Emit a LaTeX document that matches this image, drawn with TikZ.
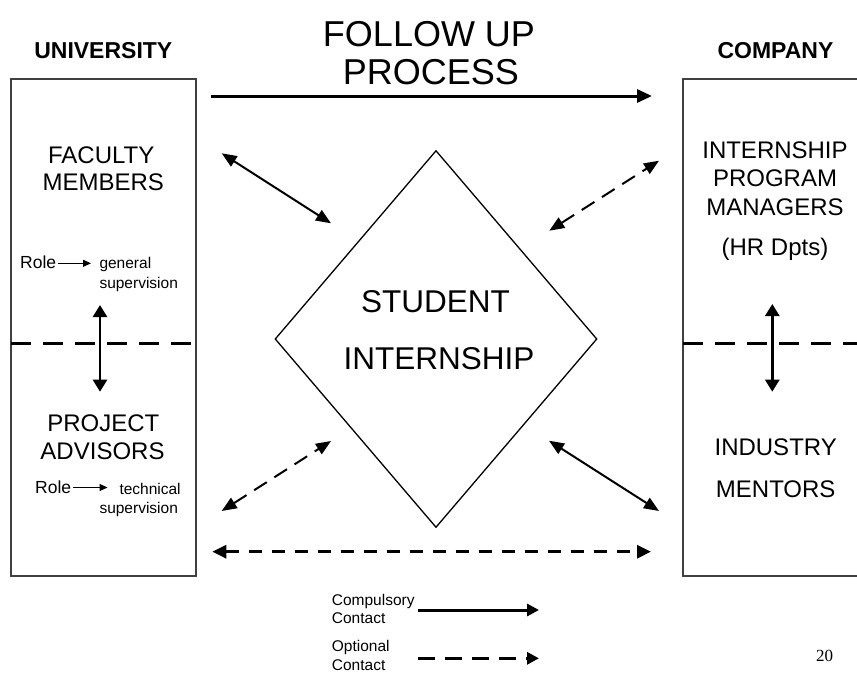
\documentclass[tikz,border=0pt]{standalone}
\usepackage{fontspec}
\setmainfont{Liberation Sans}
\newfontfamily\numfont{Liberation Serif}
\usetikzlibrary{arrows.meta,shapes.geometric}
\newcommand\myfs[1]{\fontsize{#1pt}{#1pt}\selectfont}
\begin{document}
\begin{tikzpicture}[x=1pt,y=-1pt,
  txt/.style={inner sep=0pt, anchor=base},
  txtw/.style={inner sep=0pt, anchor=base west},
  boxline/.style={draw=black!75, line width=1.3pt},
  divider/.style={line width=3pt, dash pattern=on 20pt off 12pt},
  bigtip/.style={-{Triangle[length=15pt,width=13pt]}, line width=3pt},
  vtip/.style={{Triangle[length=12pt,width=14pt]}-{Triangle[length=12pt,width=14pt]}, line width=2.7pt},
  diag/.style={{Triangle[length=15pt,width=12pt]}-{Triangle[length=15pt,width=12pt]}, line width=2pt},
  diagdash/.style={diag, dash pattern=on 15pt off 9pt},
  hdash/.style={{Triangle[length=14pt,width=13pt]}-{Triangle[length=14pt,width=13pt]}, line width=3pt, dash pattern=on 13pt off 10pt},
  roletip/.style={-{Triangle[length=8pt,width=7pt]}, line width=1pt},
  legtip/.style={-{Triangle[length=12pt,width=12pt]}, line width=3pt},
  legdash/.style={legtip, dash pattern=on 17pt off 10pt}
]
\useasboundingbox (0,0) rectangle (857,675);

% boxes
\node[boxline, rectangle, minimum width=185pt, minimum height=497pt, inner sep=0pt] (ubox) at (103.5,327.5) {};
\coordinate (ctr) at (860,79);
\coordinate (ctl) at (683,79);
\coordinate (cbl) at (683,576);
\coordinate (cbr) at (860,576);
\draw[boxline] (ctr) -- (ctl) -- (cbl) -- (cbr);

% dividers
\coordinate (ud1) at (11,343);
\coordinate (ud2) at (196,343);
\coordinate (cd1) at (683,343);
\coordinate (cd2) at (860,343);
\draw[divider] (ud1) -- (ud2);
\draw[divider] (cd1) -- (cd2);

% headings
\node[txt, font=\myfs{23}\bfseries] (univ) at (103.3,58.3) {UNIVERSITY};
\node[txt, font=\myfs{23}\bfseries] (comp) at (775.5,58.3) {COMPANY};
\node[txt, font=\myfs{36}] (title1) at (429,46) {FOLLOW UP};
\node[txt, font=\myfs{36}] (title2) at (430.8,84) {PROCESS};

% left box texts
\node[txt, font=\myfs{24}] (fac1) at (101.2,163) {FACULTY};
\node[txt, font=\myfs{24}] (fac2) at (103.3,190) {MEMBERS};
\node[txtw, font=\myfs{17.5}] (role1) at (20,268.3) {Role};
\node[txtw, font=\myfs{15.5}] (gen1) at (99.3,268) {general};
\node[txtw, font=\myfs{15.5}] (gen2) at (99.3,288) {supervision};
\coordinate (r1a) at (57.5,263.3);
\coordinate (r1b) at (91,263.3);
\draw[roletip] (r1a) -- (r1b);

\node[txt, font=\myfs{24}] (proj1) at (103.3,431.7) {PROJECT};
\node[txt, font=\myfs{24}] (proj2) at (102.5,459.3) {ADVISORS};
\node[txtw, font=\myfs{17.5}] (role2) at (35,493.3) {Role};
\node[txtw, font=\myfs{15.5}] (tec1) at (119.3,494) {technical};
\node[txtw, font=\myfs{15.5}] (tec2) at (99.3,513.3) {supervision};
\coordinate (r2a) at (73,487.5);
\coordinate (r2b) at (107.5,487.5);
\draw[roletip] (r2a) -- (r2b);

% right box texts
\node[txt, font=\myfs{24}] (ipm1) at (775,158.3) {INTERNSHIP};
\node[txt, font=\myfs{24}] (ipm2) at (775,186.7) {PROGRAM};
\node[txt, font=\myfs{24}] (ipm3) at (775,215) {MANAGERS};
\node[txt, font=\myfs{24}] (ipm4) at (775,255.5) {(HR Dpts)};
\node[txt, font=\myfs{24}] (ind1) at (775.7,455) {INDUSTRY};
\node[txt, font=\myfs{24}] (ind2) at (775.7,497.3) {MENTORS};

% diamond
\node[diamond, draw, line width=1.3pt, minimum width=322pt, minimum height=377pt, inner sep=0pt] (intern) at (436,339) {};
\node[txt, font=\myfs{31.5}] (stu1) at (435.5,312) {STUDENT};
\node[txt, font=\myfs{31.5}] (stu2) at (439,369) {INTERNSHIP};

% vertical arrows
\coordinate (lv1) at (100,305);
\coordinate (lv2) at (100,391.7);
\coordinate (rv1) at (772.3,304);
\coordinate (rv2) at (772.3,391.7);
\draw[vtip] (lv1) -- (lv2);
\draw[vtip] (rv1) -- (rv2);

% top arrow
\coordinate (ta) at (211,96);
\coordinate (tb) at (652,96);
\draw[bigtip] (ta) -- (tb);

% diagonals
\coordinate (d1a) at (221.7,153.3);
\coordinate (d1b) at (331,223.3);
\coordinate (d2a) at (549.3,230.7);
\coordinate (d2b) at (659,160.7);
\coordinate (d3a) at (221.7,511);
\coordinate (d3b) at (331,441);
\coordinate (d4a) at (549,440.7);
\coordinate (d4b) at (659,511);
\draw[diag] (d1a) -- (d1b);
\draw[diagdash] (d2a) -- (d2b);
\draw[diagdash] (d3a) -- (d3b);
\draw[diag] (d4a) -- (d4b);

% bottom dashed
\coordinate (ba) at (212.3,551.7);
\coordinate (bb) at (651,551.7);
\draw[hdash] (ba) -- (bb);

% legend
\node[txtw, font=\myfs{15.5}] (lg1) at (331.7,605) {Compulsory};
\node[txtw, font=\myfs{15.5}] (lg2) at (331.7,623.3) {Contact};
\node[txtw, font=\myfs{15.5}] (lg3) at (331.7,651.7) {Optional};
\node[txtw, font=\myfs{15.5}] (lg4) at (331.7,670) {Contact};
\coordinate (la1) at (418.3,610);
\coordinate (la2) at (539,610);
\coordinate (lb1) at (418.3,658.3);
\coordinate (lb2) at (539,658.3);
\draw[legtip] (la1) -- (la2);
\draw[legdash] (lb1) -- (lb2);

% page number
\node[txt, font=\numfont\myfs{17}] (pg) at (824.7,661.7) {20};
\end{tikzpicture}
\end{document}
